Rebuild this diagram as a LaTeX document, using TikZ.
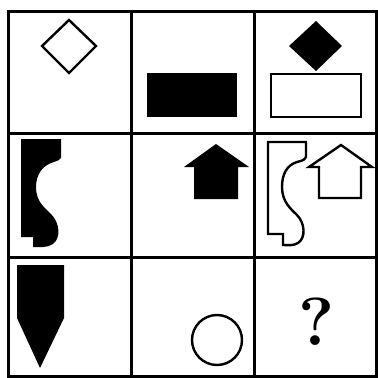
\documentclass[tikz,border=0pt]{standalone}
\usepackage{tikz}

\begin{document}
\begin{tikzpicture}[
    x=1pt, y=-1pt,
    gridline/.style={draw, line width=3pt},
    outline/.style={draw, line width=2.4pt, line join=miter, fill=white},
    blackfill/.style={fill=black}
]
\useasboundingbox (0,0) rectangle (378,378);
% 3x3 grid
\draw[gridline] (8,11) rectangle (376.5,376.5);
\draw[gridline] (131,11) -- (131,376.5);
\draw[gridline] (254,11) -- (254,376.5);
\draw[gridline] (8,133) -- (376.5,133);
\draw[gridline] (8,257) -- (376.5,257);
% row 1
\draw[outline] (69,20) -- (96,46) -- (69,73) -- (42,46) -- cycle;
\fill[blackfill] (147,73) rectangle (237,117);
\fill[blackfill] (316,21) -- (342,46) -- (316,71) -- (289,46) -- cycle;
\draw[outline] (271,74) rectangle (361,117);
% row 2
\fill[blackfill] (21,139) -- (61,139) -- (61,158)
    .. controls (60,160) and (57,161) .. (54,162)
    .. controls (43,165) and (36,174) .. (36,187)
    .. controls (36,202) and (45,208) .. (51,214)
    .. controls (60,223) and (61,238) .. (53,244)
    .. controls (47,248) and (40,247) .. (33,247)
    -- (33,237) -- (21,237) -- cycle;
\fill[blackfill] (216,144) -- (249,167) -- (238,167) -- (238,199)
    -- (194,199) -- (194,167) -- (184,167) -- cycle;
\draw[outline] (268,142) -- (306,142) -- (306,157)
    .. controls (304,161) and (300,161) .. (297,162)
    .. controls (287,165) and (282,174) .. (282,187)
    .. controls (282,202) and (291,209) .. (297,215)
    .. controls (305,223) and (306,238) .. (298,243)
    .. controls (293,246) and (288,245) .. (283,245)
    -- (283,234) -- (268,234) -- cycle;
\draw[outline] (341,145) -- (372,167) -- (361,167) -- (361,198)
    -- (319,198) -- (319,167) -- (309,167) -- cycle;
% row 3
\fill[blackfill] (17,265) -- (64,265) -- (64,318) -- (40,368) -- (17,318) -- cycle;
\draw[outline] (217,340) circle [radius=25];
\node[font=\fontsize{68}{68}\selectfont\bfseries, inner sep=0pt] (qmark) at (317,322) {?};
\end{tikzpicture}
\end{document}
